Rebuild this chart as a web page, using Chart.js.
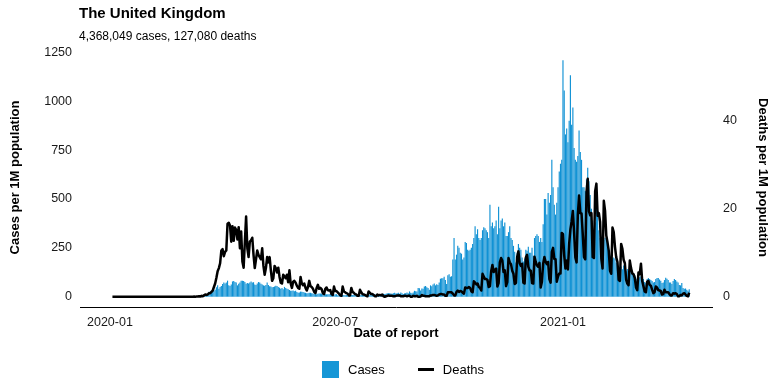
<!DOCTYPE html>
<html lang="en">
<head>
<meta charset="UTF-8">
<title>The United Kingdom</title>
<script src="https://cdn.jsdelivr.net/npm/chart.js"></script>
<style>
  body { margin: 0; background: #fff; font-family: "Liberation Sans", Arial, sans-serif; color: #000; }
  #wrap { position: relative; width: 782px; height: 391px; overflow: hidden; }
  #chart { position: absolute; left: 0; top: 0; }
  .title { position: absolute; left: 79px; top: 5px; font-size: 15px; line-height: 15px; font-weight: bold; white-space: nowrap; }
  .subtitle { position: absolute; left: 79px; top: 30px; font-size: 12px; line-height: 12px; white-space: nowrap; }
  .legend { position: absolute; left: 322px; top: 360px; height: 18px; display: flex; align-items: center; font-size: 13px; white-space: nowrap; }
  .sw-box { width: 17px; height: 17px; background: #1596d6; }
  .sw-line { width: 16px; height: 3px; background: #000; margin-left: 33px; }
  .lbl { margin-left: 9px; }
</style>
</head>
<body>
<div id="wrap">
  <canvas id="chart" width="782" height="391"></canvas>
  <div class="title">The United Kingdom</div>
  <div class="subtitle">4,368,049 cases, 127,080 deaths</div>
  <div class="legend">
    <span class="sw-box"></span><span class="lbl">Cases</span>
    <span class="sw-line"></span><span class="lbl">Deaths</span>
  </div>
</div>

<script>
// daily values, first day 2020-01-03, one row per week (Fri..Thu)
const startDate = "2020-01-03";

const casesPerM = [
  0,0,0,0,0,0,0,
  0,0,0,0,0,0,0,
  0,0,0,0,0,0,0,
  0,0,0,0,0,0,0,
  0.03,0,0,0,0,0,0.01,
  0.01,0,0,0.06,0,0.01,0,
  0.01,0,0,0,0,0,0,
  0,0,0,0,0.12,0.03,0.04,
  0.1,0.04,0.16,0.18,0.06,0.19,0.25,
  0.34,0.6,0.7,0.4,0.8,1.3,1.4,
  3,3.5,5,3.7,6,7.5,10,
  16,25,15,20,28,32,36,
  48,58,40,50,55,65,72,
  68,72,82,58,55,62,78,
  80,75,72,58,66,72,82,
  82,80,75,66,70,68,72,
  78,72,74,62,60,68,75,
  72,66,62,58,56,60,72,
  60,54,52,48,50,52,56,
  55,50,46,40,44,38,50,
  45,40,38,34,30,30,32,
  28,30,24,20,22,26,25,
  24,22,20,18,18,20,20,
  18,16,14,12,13,15,16,
  16,15,14,11,13,12,12,
  13,14,12,12,10,12,13,
  8,8,10,7,9,9,8,
  9,8,10,8,9,8,10,
  10,12,9,8,8,9,10,
  11,11,9,10,11,10,12,
  13,13,11,11,10,13,14,
  13,14,15,14,15,17,18,
  17,16,15,17,20,16,18,
  20,15,21,18,14,17,19,
  22,18,27,20,18,22,30,
  28,26,44,43,32,42,40,
  52,55,48,45,35,58,54,
  62,68,58,64,60,72,92,
  94,94,102,85,65,110,115,
  102,105,190,300,190,215,260,
  250,225,220,190,200,280,275,
  240,235,240,250,270,300,360,
  320,345,300,290,300,340,355,
  350,340,330,300,470,360,380,
  350,360,390,320,460,350,390,
  400,360,380,310,310,330,360,
  300,290,260,230,175,225,270,
  250,240,200,180,195,240,235,
  255,225,225,250,210,300,310,
  320,310,280,300,280,370,500,
  500,420,530,480,520,700,560,
  470,420,480,560,640,680,700,
  1209,1055,830,860,790,900,1132,
  880,968,760,700,690,720,850,
  740,700,560,560,540,600,660,
  590,520,450,390,320,380,540,
  430,340,300,280,240,290,302,
  300,270,230,210,180,195,200,
  195,175,155,140,120,155,140,
  160,145,130,142,120,125,135,
  125,120,110,92,80,100,100,
  105,95,90,75,70,90,95,
  90,85,80,72,75,90,95,
  95,88,82,70,72,85,97,
  92,85,72,72,65,80,90,
  85,78,72,60,58,70,45,
  40,42,35,30,38
];

const deathsPerM = [
  0,0,0,0,0,0,0,
  0,0,0,0,0,0,0,
  0,0,0,0,0,0,0,
  0,0,0,0,0,0,0,
  0,0,0,0,0,0,0,
  0,0,0,0,0,0,0,
  0,0,0,0,0,0,0,
  0,0,0,0,0,0,0,
  0,0,0,0,0,0,0.01,
  0.01,0,0.01,0.03,0.01,0.03,0.03,
  0.1,0.02,0.2,0.1,0.3,0.5,0.4,
  0.5,0.8,0.8,1.1,1.4,2.2,3.0,
  4.3,5.8,6.5,7.6,10.5,10.8,9.2,
  10.2,10.5,16.6,16.8,16.2,12.5,16.0,
  12.7,15.7,15.2,13.0,15.8,11.0,14.8,
  8.0,6.6,12.5,18.2,11.0,9.0,12.5,
  12.8,13.4,9.5,6.5,8.5,10.5,9.5,
  9.0,8.5,11.0,7.0,5.0,6.5,9.0,
  7.8,9.0,6.0,3.6,4.2,7.0,6.5,
  5.5,6.6,4.5,3.2,3.0,5.0,4.6,
  4.2,5.0,3.3,6.0,3.0,2.0,3.4,
  3.6,3.2,2.5,2.0,1.8,4.5,3.0,
  2.6,3.0,2.0,1.4,2.2,3.6,2.4,
  2.2,1.8,1.1,0.8,2.0,2.7,1.8,
  2.0,1.7,0.8,0.6,1.8,2.1,1.5,
  1.4,1.5,0.6,0.4,2.3,1.3,1.3,
  1.0,0.7,0.3,0.2,2.3,1.2,1.0,
  0.8,0.7,0.3,0.3,2.0,1.1,0.9,
  0.6,0.5,0.2,0.2,1.6,1.0,0.6,
  0.5,0.4,0.2,0.1,1.2,0.9,0.6,
  0.6,0.4,0.1,0.1,0.5,0.3,0.4,
  0.3,0.5,0.1,0.0,0.1,0.2,0.3,
  0.2,0.2,0.2,0.1,0.1,0.2,0.3,
  0.3,0.3,0.1,0.1,0.1,0.2,0.2,
  0.1,0.2,0.2,0.0,0.0,0.2,0.1,
  0.1,0.2,0.0,0.0,0.05,0.4,0.2,
  0.2,0.1,0.1,0.1,0.1,0.3,0.3,
  0.4,0.4,0.3,0.2,0.3,0.5,0.6,
  0.6,0.5,0.5,0.2,0.2,1.0,1.0,
  1.0,1.0,0.7,0.3,0.3,1.1,1.4,
  1.1,1.3,1.2,0.9,0.7,2.1,2.0,
  2.0,2.2,2.0,1.2,1.0,3.5,3.2,
  2.8,3.0,2.2,2.0,1.4,5.2,4.6,
  4.0,4.0,3.8,2.2,2.4,5.8,7.2,
  5.6,6.1,6.4,2.3,3.1,7.8,8.8,
  8.2,5.6,6.0,2.4,3.3,8.8,7.8,
  7.4,5.9,5.2,2.9,3.1,9.0,10.3,
  7.6,7.0,7.5,3.2,3.0,8.9,9.5,
  6.8,6.0,5.9,3.1,3.0,9.1,7.9,
  7.1,6.8,7.7,2.1,3.4,7.5,9.0,
  7.9,7.4,7.9,4.0,3.2,10.2,11.1,
  8.6,8.5,3.4,4.6,5.3,5.3,14.5,
  14.2,9.4,6.4,8.2,6.2,12.0,15.3,
  17.1,19.5,14.5,8.9,7.8,18.5,23.0,
  19.0,18.9,14.1,9.0,8.5,23.7,26.8,
  19.4,18.5,19.0,9.0,8.8,24.0,25.7,
  18.4,19.0,17.0,8.6,6.4,21.8,19.5,
  13.9,12.3,10.4,5.9,5.2,15.7,14.7,
  11.4,9.0,7.9,3.8,3.6,12.0,10.9,
  8.4,7.6,3.9,3.0,2.6,8.2,6.5,
  5.3,5.1,4.3,2.1,1.5,5.5,5.1,
  7.5,3.6,2.4,1.2,1.0,3.4,3.6,
  2.7,2.5,1.6,0.8,1.0,2.3,2.1,
  1.5,1.4,1.3,0.5,0.6,1.6,1.0,
  1.0,1.0,0.6,0.3,0.3,0.8,0.7,
  0.8,0.6,0.1,0.1,0.4,0.3,0.7,
  0.8,0.5,0.2,0.1,0.9
];

// x axis: days counted from 2020-01-01
const xTickDays = [0, 182, 366];
const xTickLabels = ["2020-01", "2020-07", "2021-01"];
const casesTicks = [0, 250, 500, 750, 1000, 1250];
const deathsTicks = [0, 20, 40];

const barBlue = "#0f91d4";

const dayMs = 86400000;
const firstDay = (Date.parse(startDate) - Date.parse("2020-01-01")) / dayMs;
const casesPoints = casesPerM.map((v, i) => ({ x: firstDay + i, y: v }));
const deathsPoints = deathsPerM.map((v, i) => ({ x: firstDay + i, y: v }));

Chart.defaults.font.family = '"Liberation Sans", Arial, sans-serif';
Chart.defaults.color = "#1a1a1a";

const ctx = document.getElementById("chart").getContext("2d");
new Chart(ctx, {
  type: "bar",
  data: {
    datasets: [
      {
        type: "bar",
        label: "Cases",
        data: casesPoints,
        backgroundColor: barBlue,
        borderWidth: 0,
        barPercentage: 1,
        categoryPercentage: 0.92,
        yAxisID: "yCases",
        order: 2
      },
      {
        type: "line",
        label: "Deaths",
        data: deathsPoints,
        borderColor: "#000",
        borderWidth: 2.5,
        borderJoinStyle: "round",
        pointRadius: 0,
        tension: 0,
        fill: false,
        yAxisID: "yDeaths",
        order: 1
      }
    ]
  },
  options: {
    responsive: false,
    animation: false,
    layout: { padding: { top: 48, bottom: 49, left: 0, right: 0 } },
    plugins: {
      legend: { display: false },
      tooltip: { enabled: false }
    },
    scales: {
      x: {
        type: "linear",
        offset: false,
        min: -24.2,
        max: 486.4,
        grid: { display: false, drawTicks: false, offset: false },
        border: { display: true, color: "#000", width: 1 },
        afterBuildTicks: (s) => { s.ticks = xTickDays.map((v) => ({ value: v })); },
        afterFit: (s) => { s.height = 35; },
        ticks: {
          padding: 8,
          autoSkip: false,
          maxRotation: 0,
          font: { size: 12.5 },
          callback: (v) => xTickLabels[xTickDays.indexOf(v)]
        },
        title: {
          display: true,
          text: "Date of report",
          color: "#000",
          font: { size: 13, weight: "bold" },
          padding: { top: 0, bottom: 1 }
        }
      },
      yCases: {
        position: "left",
        min: -52.7,
        max: 1271.9,
        grid: { display: false, drawTicks: false },
        border: { display: false },
        afterBuildTicks: (s) => { s.ticks = casesTicks.map((v) => ({ value: v })); },
        afterFit: (s) => { s.width = 80; },
        ticks: { padding: 8, font: { size: 12.5 }, callback: (v) => String(v) },
        title: {
          display: true,
          text: "Cases per 1M population",
          color: "#000",
          font: { size: 13, weight: "bold" },
          padding: { top: 8, bottom: 0 }
        }
      },
      yDeaths: {
        position: "right",
        min: -2.34,
        max: 56.52,
        grid: { display: false, drawTicks: false },
        border: { display: false },
        afterBuildTicks: (s) => { s.ticks = deathsTicks.map((v) => ({ value: v })); },
        afterFit: (s) => { s.width = 70; },
        ticks: { padding: 11, font: { size: 12.5 }, callback: (v) => String(v) },
        title: {
          display: true,
          text: "Deaths per 1M population",
          color: "#000",
          font: { size: 13, weight: "bold" },
          padding: { top: 12, bottom: 0 }
        }
      }
    }
  }
});
</script>
</body>
</html>
